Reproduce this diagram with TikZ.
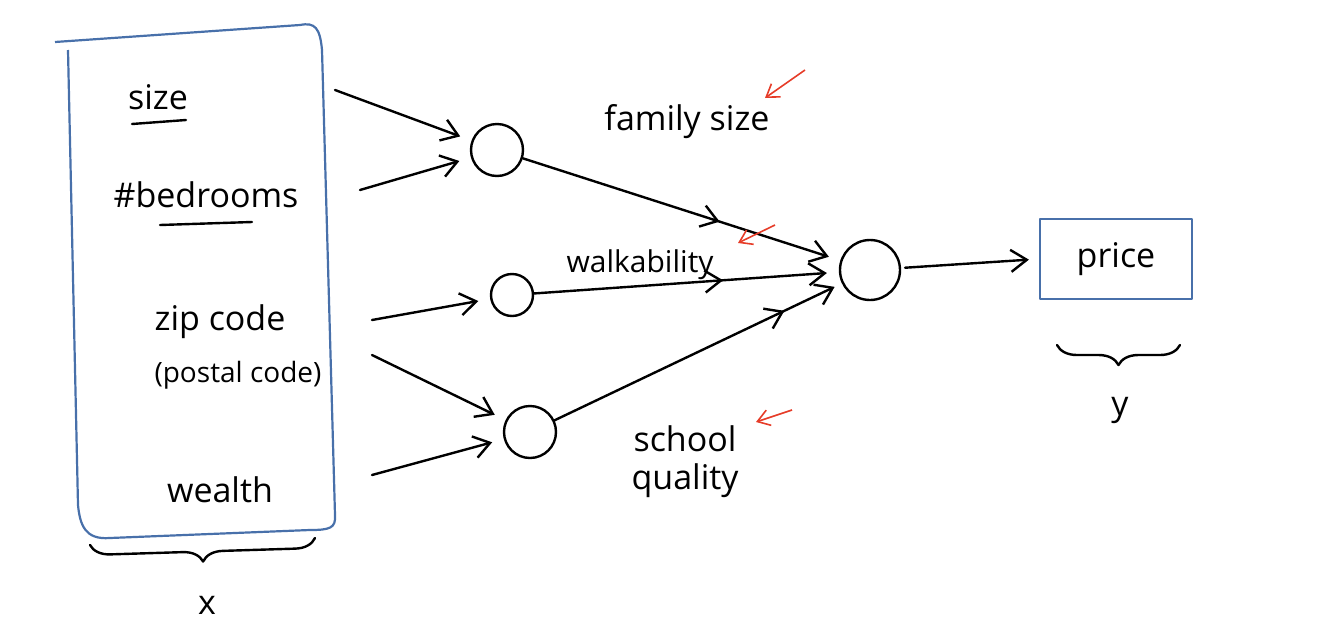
\documentclass[tikz,border=0pt]{standalone}
\usepackage{fontspec}
\setmainfont{Open Sans}
\usetikzlibrary{arrows.meta,decorations.pathreplacing,decorations.markings}
\definecolor{penblue}{RGB}{72,112,170}
\definecolor{penred}{RGB}{230,60,40}
\begin{document}
\begin{tikzpicture}[x=0.5pt,y=-0.5pt,
  ink/.style={line width=1.2pt,black,line cap=round,line join=round},
  conn/.style={ink,-{Straight Barb[length=8pt,width=11pt]}},
  midtip/.style={postaction={decorate},decoration={markings,mark=at position #1 with {\arrow{Straight Barb[length=8pt,width=11pt]}}}},
  neuron/.style={circle,draw,ink,inner sep=0pt},
  lbl/.style={font=\fontsize{17}{19}\selectfont,inner sep=1pt},
  note/.style={penred,line width=0.8pt,-{Straight Barb[length=6pt,width=8pt]}},
  bluebox/.style={draw=penblue,line width=1.1pt,line join=round},
  brc/.style={ink,decorate,decoration={brace,mirror,amplitude=10pt}}]
\useasboundingbox (0,0) rectangle (1324,633);
% input box
\draw[bluebox] (55,42) -- (300,25) .. controls (315,22) and (320,28) .. (322,50)
  -- (335,515) .. controls (336,528) and (330,530) .. (310,530)
  -- (110,538) .. controls (85,540) and (80,525) .. (78,505) -- (68,50);
\node[lbl] (size) at (158,97) {size};
\draw[ink] (132,124) -- (186,120);
\node[lbl] (bed) at (206,195) {\#bedrooms};
\draw[ink] (160,225) -- (252,222);
\node[lbl] (zip) at (220,322) {zip code};
\node[lbl,font=\fontsize{14}{16}\selectfont] (postal) at (238,375) {(postal code)};
\node[lbl] (wealth) at (220,490) {wealth};
\coordinate (xl) at (90,545);
\coordinate (xr) at (315,538);
\draw[brc] (xl) -- (xr);
\node[lbl] (xv) at (207,605) {x};
% hidden
\node[neuron,minimum size=26pt] (h1) at (497,150) {};
\node[neuron,minimum size=21pt] (h2) at (512,295) {};
\node[neuron,minimum size=26pt] (h3) at (530,432) {};
\node[neuron,minimum size=30pt] (o) at (870,270) {};
% input connectors
\coordinate (a1) at (335,90);
\coordinate (a2) at (360,190);
\coordinate (a3) at (372,320);
\coordinate (a4) at (372,355);
\coordinate (a5) at (372,475);
\draw[conn,shorten >=6pt] (a1) -- (h1);
\draw[conn,shorten >=6pt] (a2) -- (h1);
\draw[conn,shorten >=6pt] (a3) -- (h2);
\draw[conn,shorten >=6pt] (a4) -- (h3);
\draw[conn,shorten >=6pt] (a5) -- (h3);
% hidden to output
\draw[conn,midtip=0.62,shorten >=6pt] (h1) -- (o);
\draw[conn,midtip=0.62,shorten >=6pt] (h2) -- (o);
\draw[conn,midtip=0.8,shorten >=4pt] (h3) -- (o);
% labels
\node[lbl] (fam) at (687,122) {family size};
\node[lbl,font=\fontsize{15}{17}\selectfont] (walk) at (640,265) {walkability};
\node[lbl,align=center] (school) at (685,462) {school\\quality};
% red notes
\coordinate (r1s) at (805,70); \coordinate (r1e) at (765,98);
\coordinate (r2s) at (775,225); \coordinate (r2e) at (738,243);
\coordinate (r3s) at (792,410); \coordinate (r3e) at (756,422);
\draw[note] (r1s) -- (r1e);
\draw[note] (r2s) -- (r2e);
\draw[note] (r3s) -- (r3e);
% output
\node[bluebox,lbl,minimum width=76pt,minimum height=40pt] (price) at (1116,259) {price};
\draw[conn,shorten <=2pt,shorten >=5pt] (o) -- (price.west);
\coordinate (yl) at (1057,345);
\coordinate (yr) at (1180,345);
\draw[brc] (yl) -- (yr);
\node[lbl] (yv) at (1120,410) {y};
\end{tikzpicture}
\end{document}
